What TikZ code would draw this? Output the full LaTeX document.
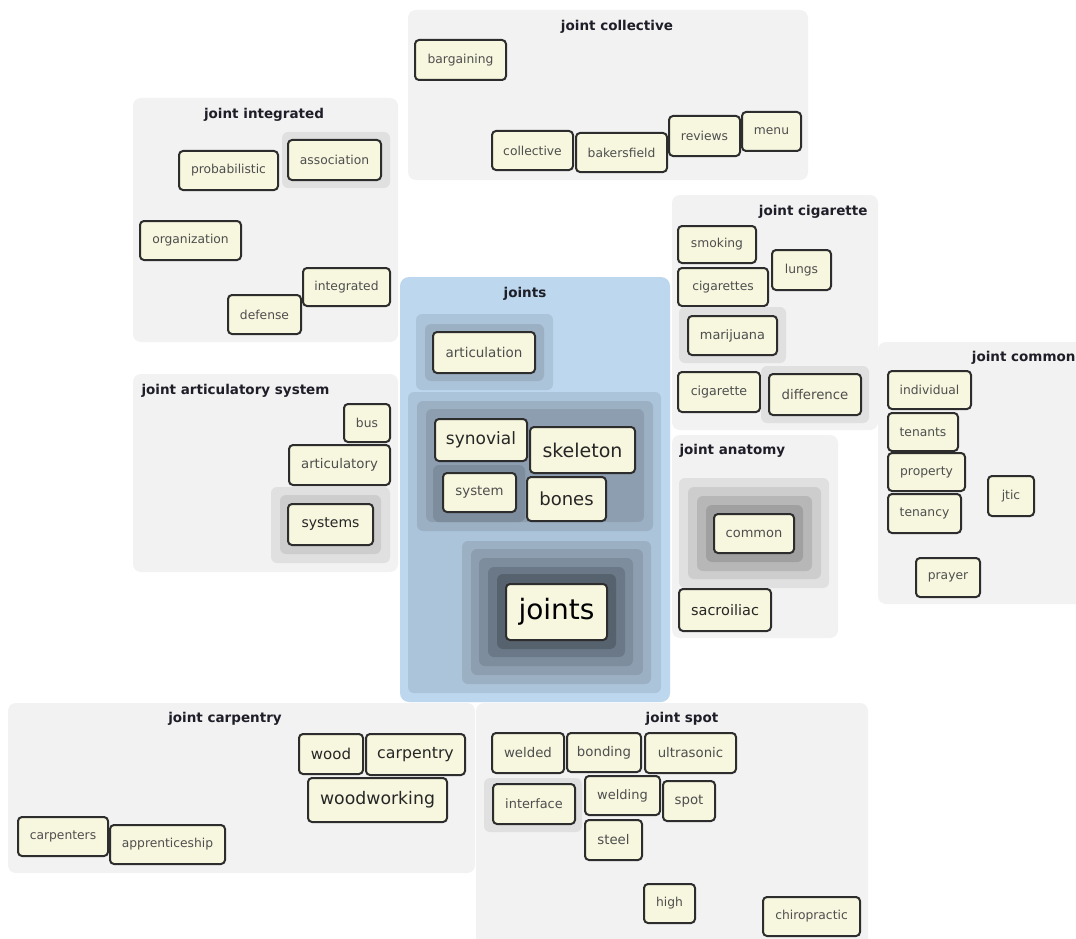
\documentclass[tikz,border=0pt]{standalone}
\usepackage{fontspec}
\setmainfont{DejaVu Sans}
\definecolor{panelgray}{RGB}{242,242,242}
\definecolor{haloA}{RGB}{224,224,224}
\definecolor{haloB}{RGB}{205,205,205}
\definecolor{haloC}{RGB}{183,183,183}
\definecolor{haloD}{RGB}{160,160,160}
\definecolor{blueP}{RGB}{189,215,238}
\definecolor{blueA}{RGB}{172,196,218}
\definecolor{blueB}{RGB}{156,176,196}
\definecolor{blueC}{RGB}{141,158,176}
\definecolor{blueD}{RGB}{125,141,158}
\definecolor{blueE}{RGB}{106,120,135}
\definecolor{blueF}{RGB}{86,98,110}
\definecolor{tagfill}{RGB}{247,246,222}
\definecolor{tagborder}{RGB}{45,45,45}
\definecolor{tagtext}{RGB}{78,78,78}
\definecolor{titletext}{RGB}{30,30,40}
\newcommand\tagfs[1]{\fontsize{#1}{#1}\selectfont}
% tag box spanning the outer rectangle (x1,y1)-(x2,y2)
\newcommand\tagnode[7][]{%
  \pgfmathsetmacro\tagw{#5-#3-2}%
  \pgfmathsetmacro\tagh{#6-#4-2}%
  \node[tagbox,#1,minimum width=\tagw pt,minimum height=\tagh pt] (#2) at ({(#3+#5)/2},{(#4+#6)/2}) {#7};}
\begin{document}
\begin{tikzpicture}[x=1pt,y=-1pt,
  panel/.style={fill=panelgray,rounded corners=8pt},
  halo/.style={rounded corners=6pt},
  tagbox/.style={draw=tagborder,line width=2pt,fill=tagfill,rounded corners=4pt,
    inner sep=0pt,text=tagtext,font=\tagfs{12.3}},
  mid/.style={font=\tagfs{13.3}},
  dark/.style={text=black!85},
  title/.style={font=\bfseries\tagfs{13.5},text=titletext}]
\useasboundingbox (0,0) rectangle (1076,939);
\fill[white] (0,0) rectangle (1076,939);

% ---- joint collective
\fill[panel] (408,10) rectangle (808,180);
\node[title] (tcol) at (617,27) {joint collective};
\tagnode{bargaining}{414}{39}{507}{81}{bargaining}
\tagnode{collective}{491}{130}{574}{171}{collective}
\tagnode{bakersfield}{575}{132}{668}{173}{bakersfield}
\tagnode{reviews}{668}{115}{741}{157}{reviews}
\tagnode{menu}{741}{111}{802}{152}{menu}

% ---- joint integrated
\fill[panel] (133,98) rectangle (398,342);
\node[title] (tint) at (264,115) {joint integrated};
\fill[halo,haloA] (282,132) rectangle (390,188);
\tagnode{probabilistic}{178}{150}{279}{191}{probabilistic}
\tagnode{association}{287}{139}{382}{181}{association}
\tagnode{organization}{139}{220}{242}{261}{organization}
\tagnode{integrated}{302}{267}{391}{307}{integrated}
\tagnode{defense}{227}{294}{302}{335}{defense}

% ---- joint articulatory system
\fill[panel] (133,374) rectangle (398,572);
\node[title,anchor=west] (tart) at (138,391) {joint articulatory system};
\tagnode{bus}{343}{403}{391}{443}{bus}
\tagnode[mid]{articulatory}{288}{444}{391}{486}{articulatory}
\fill[halo,haloA] (271,487) rectangle (390,563);
\fill[halo,haloB] (280,495) rectangle (381,554);
\tagnode[font=\tagfs{14},dark]{systems}{287}{503}{374}{546}{systems}

% ---- joints
\fill[blueP,rounded corners=9pt] (400,277) rectangle (670,702);
\node[title] (tjoints) at (525,294) {joints};
\fill[halo,blueA] (416,314) rectangle (553,390);
\fill[halo,blueB] (425,324) rectangle (544,381);
\tagnode[font=\tagfs{13.5}]{articulation}{432}{331}{536}{374}{articulation}
\fill[halo,blueA] (408,392) rectangle (661,693);
\fill[halo,blueB] (417,401) rectangle (653,531);
\fill[halo,blueC] (426,409) rectangle (644,522);
\fill[halo,blueD] (433,465) rectangle (525,522);
\tagnode[font=\tagfs{17},dark]{synovial}{434}{418}{528}{462}{synovial}
\tagnode[font=\tagfs{19},dark]{skeleton}{529}{426}{636}{474}{skeleton}
\tagnode[mid]{system}{442}{472}{517}{513}{system}
\tagnode[font=\tagfs{18},dark]{bones}{526}{476}{607}{522}{bones}
\fill[halo,blueB] (462,541) rectangle (651,684);
\fill[halo,blueC] (471,549) rectangle (643,675);
\fill[halo,blueD] (479,558) rectangle (633,666);
\fill[halo,blueE] (488,567) rectangle (625,657);
\fill[halo,blueF] (497,574) rectangle (616,649);
\tagnode[font=\tagfs{28},text=black]{joints}{505}{583}{608}{641}{joints}

% ---- joint cigarette
\fill[panel] (672,195) rectangle (878,430);
\node[title,anchor=east] (tcig) at (871,212) {joint cigarette};
\tagnode{smoking}{677}{225}{757}{264}{smoking}
\tagnode{cigarettes}{677}{267}{769}{307}{cigarettes}
\tagnode{lungs}{771}{249}{832}{291}{lungs}
\fill[halo,haloA] (679,307) rectangle (786,363);
\tagnode[font=\tagfs{12.9}]{marijuana}{687}{315}{778}{356}{marijuana}
\tagnode[font=\tagfs{12.6}]{cigarette}{677}{371}{761}{413}{cigarette}
\fill[halo,haloA] (761,366) rectangle (869,423);
\tagnode[mid]{difference}{768}{373}{862}{416}{difference}

% ---- joint anatomy
\fill[panel] (672,435) rectangle (838,638);
\node[title,anchor=west] (tana) at (676,451) {joint anatomy};
\fill[halo,haloA] (679,478) rectangle (829,588);
\fill[halo,haloB] (688,487) rectangle (821,579);
\fill[halo,haloC] (697,496) rectangle (812,571);
\fill[halo,haloD] (706,505) rectangle (803,562);
\tagnode[font=\tagfs{13}]{common}{713}{513}{795}{554}{common}
\tagnode[font=\tagfs{14.5},dark]{sacroiliac}{678}{588}{772}{632}{sacroiliac}

% ---- joint common
\fill[panel] (878,342) rectangle (1095,604);
\node[title,anchor=east] (tcom) at (1079,358) {joint common};
\tagnode{individual}{887}{370}{972}{410}{individual}
\tagnode{tenants}{887}{412}{959}{452}{tenants}
\tagnode{property}{887}{452}{966}{492}{property}
\tagnode{tenancy}{887}{493}{962}{534}{tenancy}
\tagnode{jtic}{987}{475}{1035}{517}{jtic}
\tagnode{prayer}{915}{557}{981}{598}{prayer}

% ---- joint carpentry
\fill[panel] (8,703) rectangle (475,873);
\node[title] (tcar) at (225,719) {joint carpentry};
\tagnode[font=\tagfs{15},dark]{wood}{298}{733}{364}{775}{wood}
\tagnode[font=\tagfs{15.8},dark]{carpentry}{365}{733}{466}{776}{carpentry}
\tagnode[font=\tagfs{17.3},dark]{woodworking}{307}{777}{448}{823}{woodworking}
\tagnode{carpenters}{17}{816}{109}{857}{carpenters}
\tagnode{apprenticeship}{109}{824}{226}{865}{apprenticeship}

% ---- joint spot
\fill[panel] (476,703) rectangle (868,955);
\node[title] (tspot) at (682,719) {joint spot};
\tagnode[mid]{welded}{491}{732}{565}{774}{welded}
\tagnode[mid]{bonding}{566}{732}{642}{773}{bonding}
\tagnode[mid]{ultrasonic}{644}{732}{737}{774}{ultrasonic}
\fill[halo,haloA] (484,778) rectangle (582,832);
\tagnode[font=\tagfs{12.9}]{interface}{492}{783}{576}{825}{interface}
\tagnode[font=\tagfs{13}]{welding}{584}{775}{661}{816}{welding}
\tagnode[mid]{spot}{662}{780}{716}{822}{spot}
\tagnode[mid]{steel}{584}{819}{643}{861}{steel}
\tagnode{high}{643}{883}{696}{924}{high}
\tagnode{chiropractic}{762}{896}{861}{937}{chiropractic}
\end{tikzpicture}
\end{document}
